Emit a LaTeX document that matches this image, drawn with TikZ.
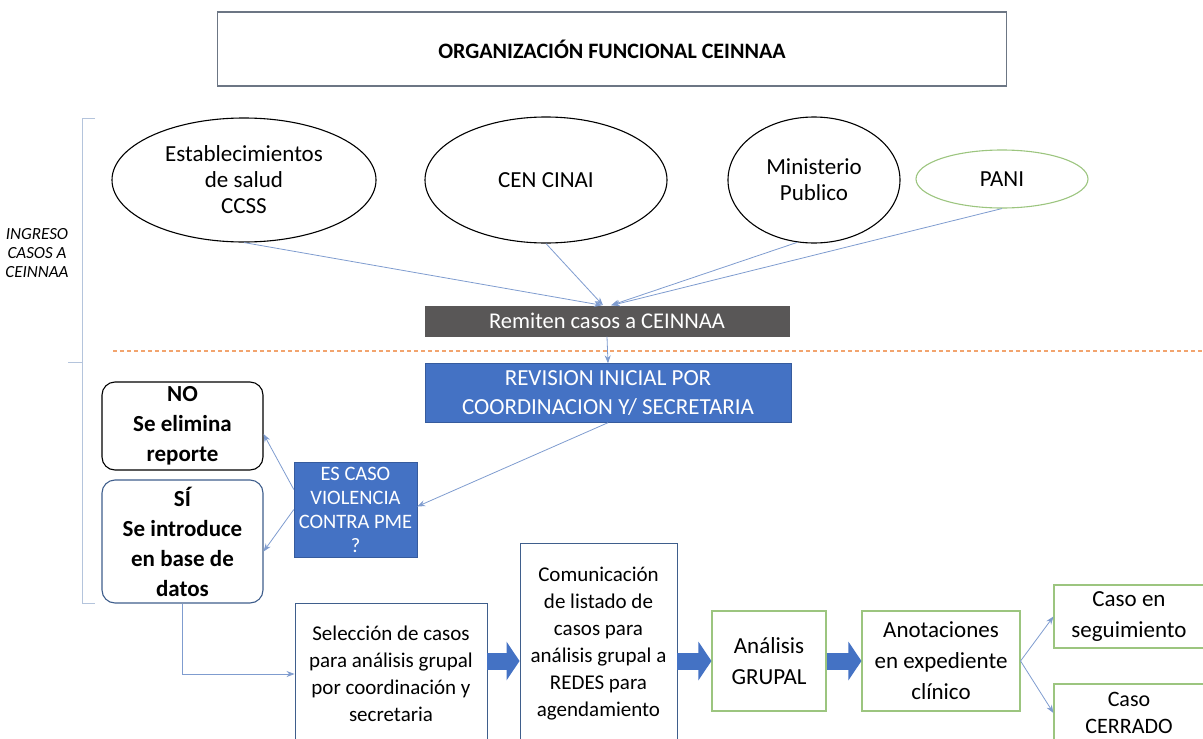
\documentclass[tikz,border=0pt]{standalone}
\usepackage{fontspec}
\setmainfont{Carlito}
\usetikzlibrary{shapes.geometric,arrows.meta}

\definecolor{azul}{HTML}{4472C4}
\definecolor{gris}{HTML}{595757}
\definecolor{linea}{HTML}{7F9CCF}
\definecolor{verde}{HTML}{9CC57F}
\definecolor{naranja}{HTML}{F2A46E}
\definecolor{marco}{HTML}{B4C4DC}
\definecolor{borde}{HTML}{3F5E8C}

\tikzset{
  oval/.style={draw=black, line width=1.1pt, ellipse, inner sep=0pt, align=center,
    font=\fontsize{23}{26}\selectfont},
  cajaazul/.style={fill=azul, draw=azul!80!black, text=white, align=center, inner sep=0pt},
  decision/.style={rounded corners=13pt, line width=1.1pt, align=center, inner sep=0pt,
    font=\bfseries\fontsize{23}{30}\selectfont},
  paso/.style={draw=borde, line width=0.9pt, align=center, inner sep=0pt,
    font=\fontsize{21}{27}\selectfont},
  pasoverde/.style={draw=verde, line width=1.1pt, align=center, inner sep=0pt,
    font=\fontsize{23}{31}\selectfont},
  flecha/.style={draw=linea, line width=0.8pt, -{Stealth[length=8pt,width=6pt]}},
  flechagorda/.style={draw=azul, line width=17pt, -{Triangle[length=13pt,width=38pt]}}
}

\begin{document}
\begin{tikzpicture}[x=1pt,y=-1pt]
\useasboundingbox (0,0) rectangle (1203,739);
\clip (0,0) rectangle (1203,739);

\node[draw=marco!60!black, line width=1.1pt, minimum width=789, minimum height=74,
  font=\bfseries\fontsize{22}{26}\selectfont] (titulo) at (612,49) {ORGANIZACIÓN FUNCIONAL CEINNAA};

\draw[marco, line width=1pt] (95,118) -- (82,118) -- (82,603) -- (95,603);
\draw[marco, line width=1pt] (68,362) -- (82,362);
\node[align=center, font=\itshape\fontsize{17}{19}\selectfont] (ingreso) at (37,253)
  {INGRESO\\CASOS A\\CEINNAA};

\draw[naranja, line width=1.1pt, dash pattern=on 4pt off 3pt] (113,351) -- (1203,351);

\node[oval, minimum width=264, minimum height=124] (est) at (244,180) {Establecimientos\\de salud\\CCSS};
\node[oval, minimum width=242, minimum height=126] (cen) at (546,180) {CEN CINAI};
\node[oval, minimum width=172, minimum height=126] (min) at (814,180) {Ministerio\\Publico};
\node[oval, draw=verde, minimum width=172, minimum height=58] (pani) at (1002,179) {PANI};

\node[fill=gris, text=white, minimum width=365, minimum height=31, inner sep=0pt,
  font=\fontsize{22.5}{25}\selectfont] (rem) at (607,321) {Remiten casos a CEINNAA};

\node[cajaazul, minimum width=366, minimum height=59, font=\fontsize{23}{29}\selectfont]
  (rev) at (608,393) {REVISION INICIAL POR\\COORDINACION Y/ SECRETARIA};

\node[cajaazul, minimum width=123, minimum height=95, font=\fontsize{20.5}{24}\selectfont]
  (es) at (355.5,509.5) {ES CASO\\VIOLENCIA\\CONTRA PME\\?};

\node[decision, draw=black, minimum width=161, minimum height=88] (no) at (182.5,426)
  {NO\\Se elimina\\reporte};
\node[decision, draw=borde, minimum width=161, minimum height=123] (si) at (182.5,541.5)
  {SÍ\\Se introduce\\en base de\\datos};

\node[paso, minimum width=192, minimum height=142] (sel) at (391,674)
  {Selección de casos\\para análisis grupal\\por coordinación y\\secretaria};
\node[paso, minimum width=157, minimum height=202] (com) at (598.5,644)
  {Comunicación\\de listado de\\casos para\\análisis grupal a\\REDES para\\agendamiento};
\node[pasoverde, minimum width=114, minimum height=100] (ana) at (769,661) {Análisis\\GRUPAL};
\node[pasoverde, minimum width=158, minimum height=100] (ano) at (941,661)
  {Anotaciones\\en expediente\\clínico};
\node[pasoverde, minimum width=150, minimum height=63] (seg) at (1129,616.5) {Caso en\\seguimiento};
\node[pasoverde, minimum width=150, minimum height=58, font=\fontsize{22}{27}\selectfont]
  (cer) at (1129,713) {Caso\\CERRADO};

\draw[flecha] (est.south) -- ([xshift=-5pt]rem.north);
\draw[flecha] (cen.south) -- ([xshift=-4pt]rem.north);
\draw[flecha] (min.255) -- ([xshift=4pt]rem.north);
\draw[flecha] (pani.south) -- ([xshift=5pt]rem.north);
\draw[flecha] (rem.south) -- (rev.north);
\draw[flecha] (rev.south) -- ([yshift=3pt]es.east);
\draw[flecha] ([yshift=20pt]es.west) -- ([yshift=-8pt]no.east);
\draw[flecha] (es.west) -- ([yshift=-10pt]si.east);
\draw[flecha] (si.south) |- (sel.west);

\draw[flechagorda] (sel.east |- ana.west) -- (com.west |- ana.west);
\draw[flechagorda] (com.east |- ana.west) -- (ana.west);
\draw[flechagorda] (ana.east) -- (ano.west);

\draw[flecha] (ano.east) -- (seg.west);
\draw[flecha] (ano.east) -- (cer.west);
\end{tikzpicture}
\end{document}
